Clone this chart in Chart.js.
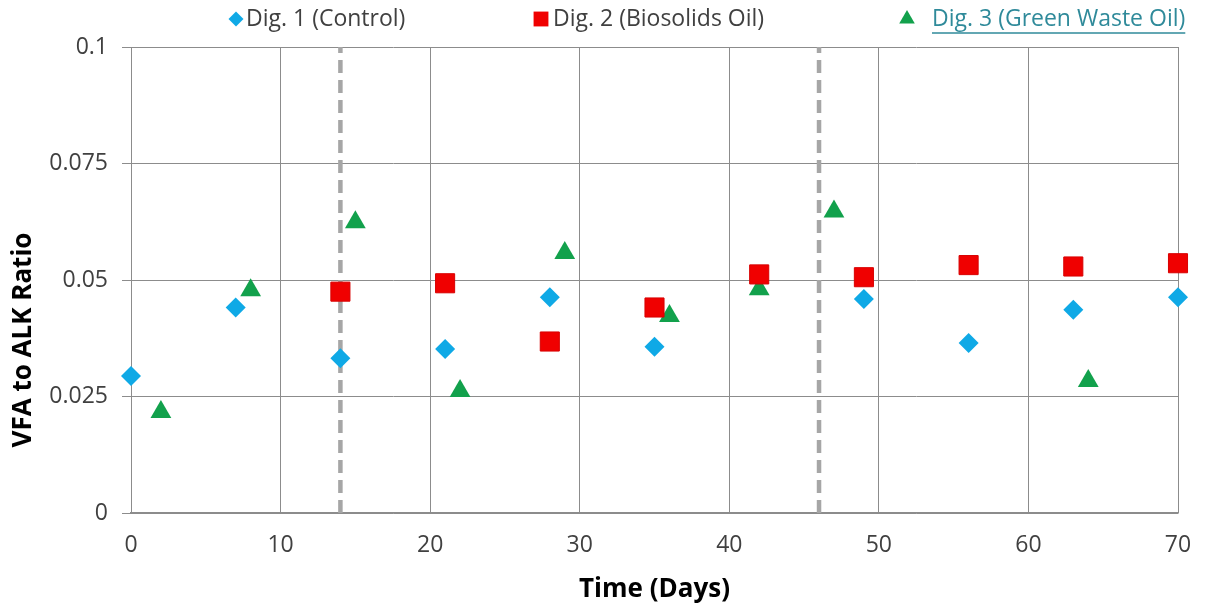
<!DOCTYPE html>
<html>
<head>
<meta charset="utf-8">
<script src="https://cdn.jsdelivr.net/npm/chart.js@4/dist/chart.umd.min.js"></script>
<style>
  html, body { margin: 0; padding: 0; background: #ffffff; }
  #wrap { position: relative; width: 1205px; height: 609px; }
</style>
</head>
<body>
<div id="wrap"><canvas id="c" width="1205" height="609"></canvas></div>
<script>
// ---- data ----
const controlDays = [0, 7, 14, 21, 28, 35, 49, 56, 63, 70];
const controlVals = [0.0294, 0.0441, 0.0332, 0.0352, 0.0463, 0.0357, 0.0459, 0.0365, 0.0436, 0.0463];

const bioDays = [14, 21, 28, 35, 42, 49, 56, 63, 70];
const bioVals = [0.0475, 0.0493, 0.0368, 0.0441, 0.0512, 0.0506, 0.0532, 0.0529, 0.0536];

const greenDays = [2, 8, 15, 22, 29, 36, 42, 47, 64];
const greenVals = [0.0217, 0.0478, 0.0624, 0.0262, 0.0558, 0.0423, 0.0480, 0.0647, 0.0283];

const dividerDays = [14, 46];

const seriesNames = ['Dig. 1 (Control)', 'Dig. 2 (Biosolids Oil)', 'Dig. 3 (Green Waste Oil)'];
const xTicks = [0, 10, 20, 30, 40, 50, 60, 70];
const yTicks = [0, 0.025, 0.05, 0.075, 0.1];
const yTickLabels = ['0', '0.025', '0.05', '0.075', '0.1'];
const xTitle = 'Time (Days)';
const yTitle = 'VFA to ALK Ratio';

const FONT = '"Open Sans", "Liberation Sans", sans-serif';

function pts(xs, ys) { return xs.map((x, i) => ({ x: x, y: ys[i] })); }

const datasets = [
  {
    label: seriesNames[0], data: pts(controlDays, controlVals), clip: false,
    pointStyle: 'rectRot', pointRadius: 10, backgroundColor: '#0fa9e6', borderColor: '#0fa9e6', borderWidth: 0
  },
  {
    label: seriesNames[1], data: pts(bioDays, bioVals), clip: false,
    pointStyle: 'rect', pointRadius: 13.5, backgroundColor: '#f00000', borderColor: '#d80000', borderWidth: 1
  },
  {
    label: seriesNames[2], data: pts(greenDays, greenVals), clip: false,
    pointStyle: 'triangle', pointRadius: 12, backgroundColor: '#12a14c', borderColor: '#12a14c', borderWidth: 0
  }
];
dividerDays.forEach(d => {
  datasets.push({
    type: 'line', label: '_divider', data: [{ x: d, y: 0 }, { x: d, y: 0.1 }],
    borderColor: '#a6a6a6', borderWidth: 4.5, borderDash: [13, 7], pointRadius: 0, showLine: true, fill: false
  });
});

// legend drawn with the chart, at the reference's positions
const legendItems = [
  { marker: 'rectRot', r: 7.5, color: '#0fa9e6', mx: 236, tx: 246, textColor: '#404040', underline: false },
  { marker: 'rect', r: 10.5, color: '#f00000', mx: 541, tx: 553, textColor: '#404040', underline: false },
  { marker: 'triangle', r: 9, color: '#12a14c', mx: 907, tx: 932, textColor: '#2f8a9a', underline: true }
];
const legendPlugin = {
  id: 'customLegend',
  afterDraw(chart) {
    const ctx = chart.ctx;
    const y = 19;
    ctx.save();
    legendItems.forEach((it, i) => {
      ctx.fillStyle = it.color;
      Chart.helpers.drawPoint(ctx, { pointStyle: it.marker, radius: it.r, borderWidth: 0 }, it.mx, y);
      ctx.font = '23px ' + FONT;
      ctx.textBaseline = 'middle';
      ctx.textAlign = 'left';
      ctx.fillStyle = it.textColor;
      ctx.fillText(seriesNames[i], it.tx, y);
      if (it.underline) {
        const w = ctx.measureText(seriesNames[i]).width;
        ctx.strokeStyle = it.textColor;
        ctx.lineWidth = 1.3;
        ctx.beginPath();
        ctx.moveTo(it.tx, y + 14);
        ctx.lineTo(it.tx + w, y + 14);
        ctx.stroke();
      }
    });
    // vertical axis title, placed where the reference has it
    ctx.translate(24, 340);
    ctx.rotate(-Math.PI / 2);
    ctx.font = 'bold 26px ' + FONT;
    ctx.fillStyle = '#000000';
    ctx.textAlign = 'center';
    ctx.textBaseline = 'middle';
    ctx.fillText(yTitle, 0, 0);
    ctx.restore();
  }
};

new Chart(document.getElementById('c'), {
  type: 'scatter',
  data: { datasets: datasets },
  options: {
    responsive: false,
    animation: false,
    layout: { padding: { top: 47, right: 27, bottom: 0, left: 0 } },
    plugins: {
      legend: { display: false },
      tooltip: { enabled: false }
    },
    scales: {
      x: {
        type: 'linear', min: 0, max: 70,
        afterBuildTicks: s => { s.ticks = xTicks.map(v => ({ value: v })); },
        afterFit: s => { s.height = 96; s.paddingLeft = 0; s.paddingRight = 0; },
        grid: { color: '#8c8c8c', lineWidth: 1, drawTicks: false },
        border: { color: '#8c8c8c', width: 1.5 },
        ticks: { color: '#404040', font: { family: FONT, size: 23 }, padding: 19, maxRotation: 0 },
        title: { display: true, text: xTitle, color: '#000000', font: { family: FONT, size: 26, weight: 'bold' }, padding: { top: 0, bottom: 4 } }
      },
      y: {
        type: 'linear', min: 0, max: 0.1,
        afterBuildTicks: s => { s.ticks = yTicks.map(v => ({ value: v })); },
        afterFit: s => { s.width = 131; s.paddingTop = 0; s.paddingBottom = 0; },
        grid: { color: '#8c8c8c', lineWidth: 1, drawTicks: true, tickLength: 9 },
        border: { color: '#8c8c8c', width: 1 },
        ticks: {
          color: '#404040', font: { family: FONT, size: 23 }, padding: 14,
          callback: (v) => { const i = yTicks.indexOf(v); return i >= 0 ? yTickLabels[i] : ''; }
        },
        title: { display: false }
      }
    }
  },
  plugins: [legendPlugin]
});
</script>
</body>
</html>
